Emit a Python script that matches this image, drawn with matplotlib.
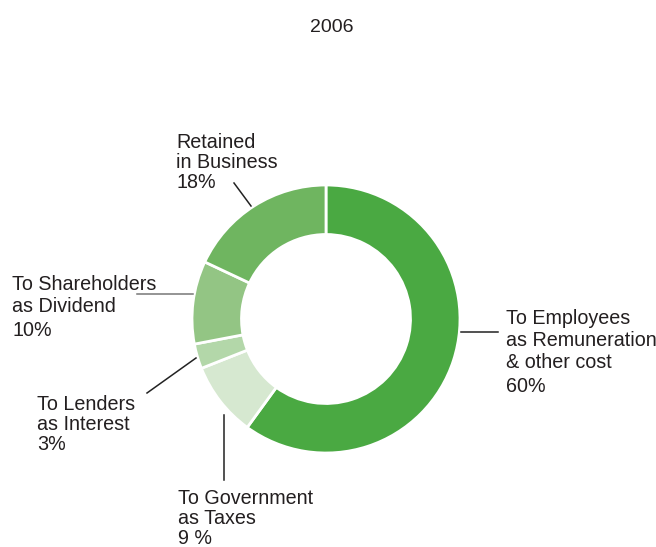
import matplotlib.pyplot as plt

plt.rcParams['font.family'] = ['Liberation Sans', 'DejaVu Sans']

H = 547
title = '2006'
shares = [60, 9, 3, 10, 18]
colors = ['#4aa942', '#d6e8d0', '#b3d7a9', '#93c584', '#6fb560']
labels = [
    ['To Employees', 'as Remuneration', '& other cost', '60%'],
    ['To Government', 'as Taxes', '9 %'],
    ['To Lenders', 'as Interest', '3%'],
    ['To Shareholders', 'as Dividend', '10%'],
    ['Retained', 'in Business', '18%'],
]

# label placement in pixels (left x, line centre y's), leader lines (x0, y0, x1, y1)
label_pos = [
    (506, [319, 340, 362, 386]),
    (178, [499, 519, 539]),
    (37, [404, 424, 444]),
    (12, [284, 307, 330]),
    (176, [142, 163, 183]),
]
leaders = [
    ((461, 332, 498, 332), '#222222'),
    ((224, 415, 224, 480), '#222222'),
    ((147, 393, 196, 358), '#222222'),
    ((137, 294, 193, 294), '#777777'),
    ((234, 183, 251, 206), '#222222'),
]

fig = plt.figure(figsize=(6.56, 5.47), dpi=100)
ax = fig.add_axes([0, 0, 1, 1])

cx, cy, r_out, r_in = 326, 319, 134, 84.5
ax.pie(shares, colors=colors, startangle=90, counterclock=False,
       center=(cx, H - cy), radius=r_out,
       wedgeprops=dict(width=r_out - r_in, edgecolor='white', linewidth=2))

for (x0, y0, x1, y1), c in leaders:
    ax.plot([x0, x1], [H - y0, H - y1], color=c, lw=1.1)

for lines, (x, ys) in zip(labels, label_pos):
    for txt, y in zip(lines, ys):
        ax.text(x, H - y, txt, fontsize=14.2, color='#231f20',
                ha='left', va='center')

ax.text(332, H - 27, title, fontsize=14, color='#231f20', ha='center', va='center')

ax.set_xlim(0, 656)
ax.set_ylim(0, H)
ax.set_aspect('equal')
ax.axis('off')

fig.savefig('out.png', dpi=100)
